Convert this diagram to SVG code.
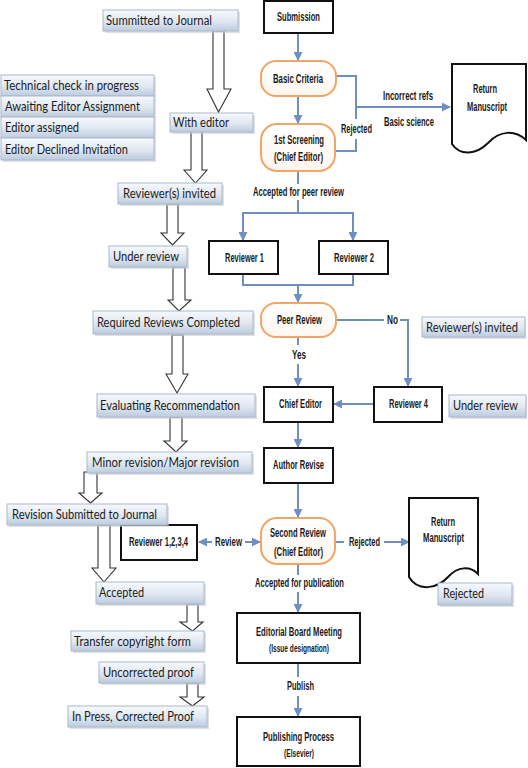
<svg xmlns="http://www.w3.org/2000/svg" width="528" height="768" viewBox="0 0 528 768">
<defs>
<linearGradient id="sg" x1="0" y1="0" x2="0" y2="1">
<stop offset="0" stop-color="#f7f9fc"/>
<stop offset="0.55" stop-color="#dfe7f1"/>
<stop offset="1" stop-color="#bccbdd"/>
</linearGradient>
<linearGradient id="og" x1="0" y1="0" x2="0" y2="1">
<stop offset="0" stop-color="#ffffff"/>
<stop offset="1" stop-color="#fff6ee"/>
</linearGradient>
<marker id="ah" viewBox="0 0 10 10" refX="9" refY="5" markerWidth="4.5" markerHeight="4.5" orient="auto-start-reverse" markerUnits="strokeWidth">
<path d="M0,0 L10,5 L0,10 z" fill="#6f8fc1"/>
</marker>
</defs>
<style>
.st rect.b{fill:url(#sg);stroke:#a9b8cc;stroke-width:1}
.st rect.s{fill:#c9ccd2;opacity:0.6}
.st text{font-family:Lato,"Open Sans","Liberation Sans",sans-serif;font-size:12.5px;fill:#1c1c1c}
.box{fill:#fff;stroke:#111;stroke-width:2}
.rnd{fill:url(#og);stroke:#efa668;stroke-width:2}
.doc{fill:#fff;stroke:#111;stroke-width:2}
.ft{font-family:"Liberation Sans Narrow","Liberation Sans",sans-serif;font-size:12px;font-weight:bold;fill:#1a1a1a;text-anchor:middle}
.sm{font-size:10px}
.cn{fill:none;stroke:#6f8fc1;stroke-width:2}
.ar{marker-end:url(#ah)}
.ha{fill:#fff;stroke:#333;stroke-width:1.1}
</style>

<g id="connectors">
<line class="cn ar" x1="298" y1="33" x2="298" y2="60"/>
<line class="cn ar" x1="298" y1="96" x2="298" y2="123"/>
<polyline class="cn" points="336,76 356,76 356,119"/>
<polyline class="cn" points="356,139 356,151 335,151"/>
<line class="cn ar" x1="356" y1="107" x2="450" y2="107"/>
<line class="cn" x1="298" y1="171" x2="298" y2="184"/>
<polyline class="cn" points="298,200 298,213"/>
<polyline class="cn ar" points="243,241 243,213 353,213 353,240"/>
<line class="cn ar" x1="243" y1="213" x2="243" y2="240"/>
<polyline class="cn" points="243,274 243,285 353,285 353,274"/>
<line class="cn ar" x1="298" y1="285" x2="298" y2="302"/>
<line class="cn" x1="336" y1="320" x2="384" y2="320"/>
<polyline class="cn ar" points="400,320 408,320 408,386"/>
<line class="cn" x1="298" y1="337" x2="298" y2="345"/>
<line class="cn ar" x1="298" y1="364" x2="298" y2="386"/>
<line class="cn ar" x1="374" y1="404" x2="334" y2="404"/>
<line class="cn ar" x1="298" y1="422" x2="298" y2="447"/>
<line class="cn ar" x1="298" y1="483" x2="298" y2="517"/>
<line class="cn" x1="335" y1="542" x2="344" y2="542"/>
<line class="cn ar" x1="384" y1="542" x2="409" y2="542"/>
<line class="cn ar" x1="212" y1="542" x2="199" y2="542"/>
<line class="cn ar" x1="245" y1="542" x2="260" y2="542"/>
<line class="cn" x1="298" y1="564" x2="298" y2="575"/>
<line class="cn ar" x1="298" y1="592" x2="298" y2="612"/>
<line class="cn" x1="298" y1="663" x2="298" y2="677"/>
<line class="cn ar" x1="298" y1="696" x2="298" y2="716"/>
<text class="ft" x="356.5" y="133" textLength="31" lengthAdjust="spacingAndGlyphs">Rejected</text>
<text class="ft" x="408" y="100" textLength="50" lengthAdjust="spacingAndGlyphs">Incorrect refs</text>
<text class="ft" x="409" y="126" textLength="50" lengthAdjust="spacingAndGlyphs">Basic science</text>
<text class="ft" x="298.5" y="196" textLength="91" lengthAdjust="spacingAndGlyphs">Accepted for peer review</text>
<text class="ft" x="392.5" y="324" textLength="11" lengthAdjust="spacingAndGlyphs">No</text>
<text class="ft" x="299" y="359" textLength="14" lengthAdjust="spacingAndGlyphs">Yes</text>
<text class="ft" x="364.5" y="546" textLength="31" lengthAdjust="spacingAndGlyphs">Rejected</text>
<text class="ft" x="228.5" y="546" textLength="27" lengthAdjust="spacingAndGlyphs">Review</text>
<text class="ft" x="299.5" y="587" textLength="89" lengthAdjust="spacingAndGlyphs">Accepted for publication</text>
<text class="ft" x="300.5" y="690" textLength="27" lengthAdjust="spacingAndGlyphs">Publish</text>
</g>

<g id="hollow-arrows">
<path class="ha" d="M213,31 H224 V89 H231 L218.5,112 L207,89 H213 Z"/>
<path class="ha" d="M191,131 H202 V170 H207 L195.5,183 L184,170 H191 Z"/>
<path class="ha" d="M167,204 H178 V233 H184 L172.5,245 L161,233 H167 Z"/>
<path class="ha" d="M173,267 H185 V300 H191 L179,311 L168,300 H173 Z"/>
<path class="ha" d="M172,335 H183 V374 H188 L177,393 L166,374 H172 Z"/>
<path class="ha" d="M170,417 H182 V441 H187 L176,452 L164,441 H170 Z"/>
<path class="ha" d="M84,472 H97 V493 H102 L90.5,503 L79,493 H84 Z"/>
<path class="ha" d="M98,525 H110 V568 H116 L104,582 L92,568 H98 Z"/>
<path class="ha" d="M187,604 H198 V622 H203 L192.5,631 L180,622 H187 Z"/>
<path class="ha" d="M187,683 H198 V697 H204 L192.5,706 L180,697 H187 Z"/>
</g>

<g id="submission"><rect class="box" x="264" y="1" width="69" height="32"/><text class="ft" x="298.5" y="21" textLength="43" lengthAdjust="spacingAndGlyphs">Submission</text></g>
<g id="basic-criteria"><rect class="rnd" x="261" y="61" width="75" height="35" rx="15"/><text class="ft" x="298" y="82.5" textLength="50" lengthAdjust="spacingAndGlyphs">Basic Criteria</text></g>
<g id="first-screening"><rect class="rnd" x="261" y="124" width="74" height="47" rx="16"/><text class="ft" x="299" y="144" textLength="50" lengthAdjust="spacingAndGlyphs">1st Screening</text><text class="ft" x="298.5" y="160.5" textLength="49" lengthAdjust="spacingAndGlyphs">(Chief Editor)</text></g>
<g id="return-manuscript-1"><path class="doc" d="M452,64 H526 V140 C515,130 500,130 488,143 C476,155 460,156 452,144 Z"/><text class="ft" x="485" y="93" textLength="24" lengthAdjust="spacingAndGlyphs">Return</text><text class="ft" x="487" y="111" textLength="40" lengthAdjust="spacingAndGlyphs">Manuscript</text></g>
<g id="reviewer-1"><rect class="box" x="209" y="241" width="69" height="33"/><text class="ft" x="244.5" y="262" textLength="39" lengthAdjust="spacingAndGlyphs">Reviewer 1</text></g>
<g id="reviewer-2"><rect class="box" x="319" y="241" width="69" height="33"/><text class="ft" x="354" y="262" textLength="40" lengthAdjust="spacingAndGlyphs">Reviewer 2</text></g>
<g id="peer-review"><rect class="rnd" x="261" y="303" width="75" height="34" rx="15"/><text class="ft" x="299.5" y="324" textLength="45" lengthAdjust="spacingAndGlyphs">Peer Review</text></g>
<g id="chief-editor"><rect class="box" x="264" y="387" width="69" height="35"/><text class="ft" x="300.5" y="408" textLength="43" lengthAdjust="spacingAndGlyphs">Chief Editor</text></g>
<g id="reviewer-4"><rect class="box" x="374" y="387" width="68" height="35"/><text class="ft" x="408.5" y="408" textLength="39" lengthAdjust="spacingAndGlyphs">Reviewer 4</text></g>
<g id="author-revise"><rect class="box" x="264" y="448" width="69" height="35"/><text class="ft" x="298.5" y="469" textLength="51" lengthAdjust="spacingAndGlyphs">Author Revise</text></g>
<g id="second-review"><rect class="rnd" x="261" y="518" width="74" height="46" rx="16"/><text class="ft" x="298" y="537" textLength="56" lengthAdjust="spacingAndGlyphs">Second Review</text><text class="ft" x="298.5" y="556" textLength="49" lengthAdjust="spacingAndGlyphs">(Chief Editor)</text></g>
<g id="reviewer-1234"><rect class="box" x="121" y="525" width="76" height="35"/><text class="ft" x="158.5" y="546" textLength="59" lengthAdjust="spacingAndGlyphs">Reviewer 1,2,3,4</text></g>
<g id="return-manuscript-2"><path class="doc" d="M409,498 H478 V574 C470,566 458,566 448,577 C437,589 418,592 409,577 Z"/><text class="ft" x="443" y="526" textLength="24" lengthAdjust="spacingAndGlyphs">Return</text><text class="ft" x="443.5" y="542" textLength="41" lengthAdjust="spacingAndGlyphs">Manuscript</text></g>
<g id="editorial-board"><rect class="box" x="237" y="613" width="123" height="50"/><text class="ft" x="299" y="636" textLength="86" lengthAdjust="spacingAndGlyphs">Editorial Board Meeting</text><text class="ft sm" x="299" y="651.5" textLength="60" lengthAdjust="spacingAndGlyphs">(Issue designation)</text></g>
<g id="publishing-process"><rect class="box" x="237" y="717" width="123" height="49"/><text class="ft" x="298.5" y="741" textLength="71" lengthAdjust="spacingAndGlyphs">Publishing Process</text><text class="ft sm" x="299" y="756.5" textLength="30" lengthAdjust="spacingAndGlyphs">(Elsevier)</text></g>

<g class="st" id="s-summitted"><rect class="s" x="105" y="12" width="135" height="21"/><rect class="b" x="103" y="10" width="135" height="21"/><text x="106" y="25" textLength="106" lengthAdjust="spacingAndGlyphs">Summitted to Journal</text></g>
<g class="st" id="s-technical"><rect class="s" x="3" y="77" width="153" height="21"/><rect class="b" x="1" y="75" width="153" height="21"/><text x="4" y="90" textLength="135" lengthAdjust="spacingAndGlyphs">Technical check in progress</text></g>
<g class="st" id="s-awaiting"><rect class="s" x="3" y="98" width="153" height="21"/><rect class="b" x="1" y="96" width="153" height="21"/><text x="5" y="111" textLength="135" lengthAdjust="spacingAndGlyphs">Awaiting Editor Assignment</text></g>
<g class="st" id="s-assigned"><rect class="s" x="3" y="119" width="153" height="21"/><rect class="b" x="1" y="117" width="153" height="21"/><text x="5" y="132" textLength="74" lengthAdjust="spacingAndGlyphs">Editor assigned</text></g>
<g class="st" id="s-declined"><rect class="s" x="3" y="140" width="153" height="22"/><rect class="b" x="1" y="138" width="153" height="22"/><text x="5" y="153.5" textLength="123" lengthAdjust="spacingAndGlyphs">Editor Declined Invitation</text></g>
<g class="st" id="s-with-editor"><rect class="s" x="172" y="115" width="83" height="19"/><rect class="b" x="170" y="113" width="83" height="19"/><text x="173" y="127" textLength="56" lengthAdjust="spacingAndGlyphs">With editor</text></g>
<g class="st" id="s-invited"><rect class="s" x="120" y="185" width="104" height="21"/><rect class="b" x="118" y="183" width="104" height="21"/><text x="123" y="198" textLength="93" lengthAdjust="spacingAndGlyphs">Reviewer(s) invited</text></g>
<g class="st" id="s-under"><rect class="s" x="111" y="248" width="78" height="21"/><rect class="b" x="109" y="246" width="78" height="21"/><text x="113" y="261" textLength="66" lengthAdjust="spacingAndGlyphs">Under review</text></g>
<g class="st" id="s-required"><rect class="s" x="95" y="313" width="160" height="23"/><rect class="b" x="93" y="311" width="160" height="23"/><text x="97" y="327" textLength="143" lengthAdjust="spacingAndGlyphs">Required Reviews Completed</text></g>
<g class="st" id="s-evaluating"><rect class="s" x="99" y="396" width="158" height="23"/><rect class="b" x="97" y="394" width="158" height="23"/><text x="100" y="410" textLength="140" lengthAdjust="spacingAndGlyphs">Evaluating Recommendation</text></g>
<g class="st" id="s-minor"><rect class="s" x="89" y="454" width="165" height="21"/><rect class="b" x="87" y="452" width="165" height="21"/><text x="92" y="467" textLength="147" lengthAdjust="spacingAndGlyphs">Minor revision/Major revision</text></g>
<g class="st" id="s-revision"><rect class="s" x="9" y="506" width="160" height="21"/><rect class="b" x="7" y="504" width="160" height="21"/><text x="12" y="519" textLength="145" lengthAdjust="spacingAndGlyphs">Revision Submitted to Journal</text></g>
<g class="st" id="s-accepted"><rect class="s" x="98" y="584" width="108" height="22"/><rect class="b" x="96" y="582" width="108" height="22"/><text x="99" y="597" textLength="45" lengthAdjust="spacingAndGlyphs">Accepted</text></g>
<g class="st" id="s-transfer"><rect class="s" x="73" y="633" width="133" height="20"/><rect class="b" x="71" y="631" width="133" height="20"/><text x="74" y="646" textLength="117" lengthAdjust="spacingAndGlyphs">Transfer copyright form</text></g>
<g class="st" id="s-uncorrected"><rect class="s" x="101" y="664" width="105" height="21"/><rect class="b" x="99" y="662" width="105" height="21"/><text x="103" y="677" textLength="91" lengthAdjust="spacingAndGlyphs">Uncorrected proof</text></g>
<g class="st" id="s-inpress"><rect class="s" x="70" y="708" width="139" height="21"/><rect class="b" x="68" y="706" width="139" height="21"/><text x="72" y="721" textLength="122" lengthAdjust="spacingAndGlyphs">In Press, Corrected Proof</text></g>
<g class="st" id="s-invited-r"><rect class="s" x="424" y="319" width="102" height="20"/><rect class="b" x="422" y="317" width="103" height="20"/><text x="426" y="332" textLength="92" lengthAdjust="spacingAndGlyphs">Reviewer(s) invited</text></g>
<g class="st" id="s-under-r"><rect class="s" x="451" y="397" width="76" height="22"/><rect class="b" x="449" y="395" width="77" height="22"/><text x="453" y="410" textLength="65" lengthAdjust="spacingAndGlyphs">Under review</text></g>
<g class="st" id="s-rejected"><rect class="s" x="440" y="585" width="74" height="22"/><rect class="b" x="438" y="583" width="74" height="22"/><text x="443" y="598" textLength="41" lengthAdjust="spacingAndGlyphs">Rejected</text></g>
</svg>
